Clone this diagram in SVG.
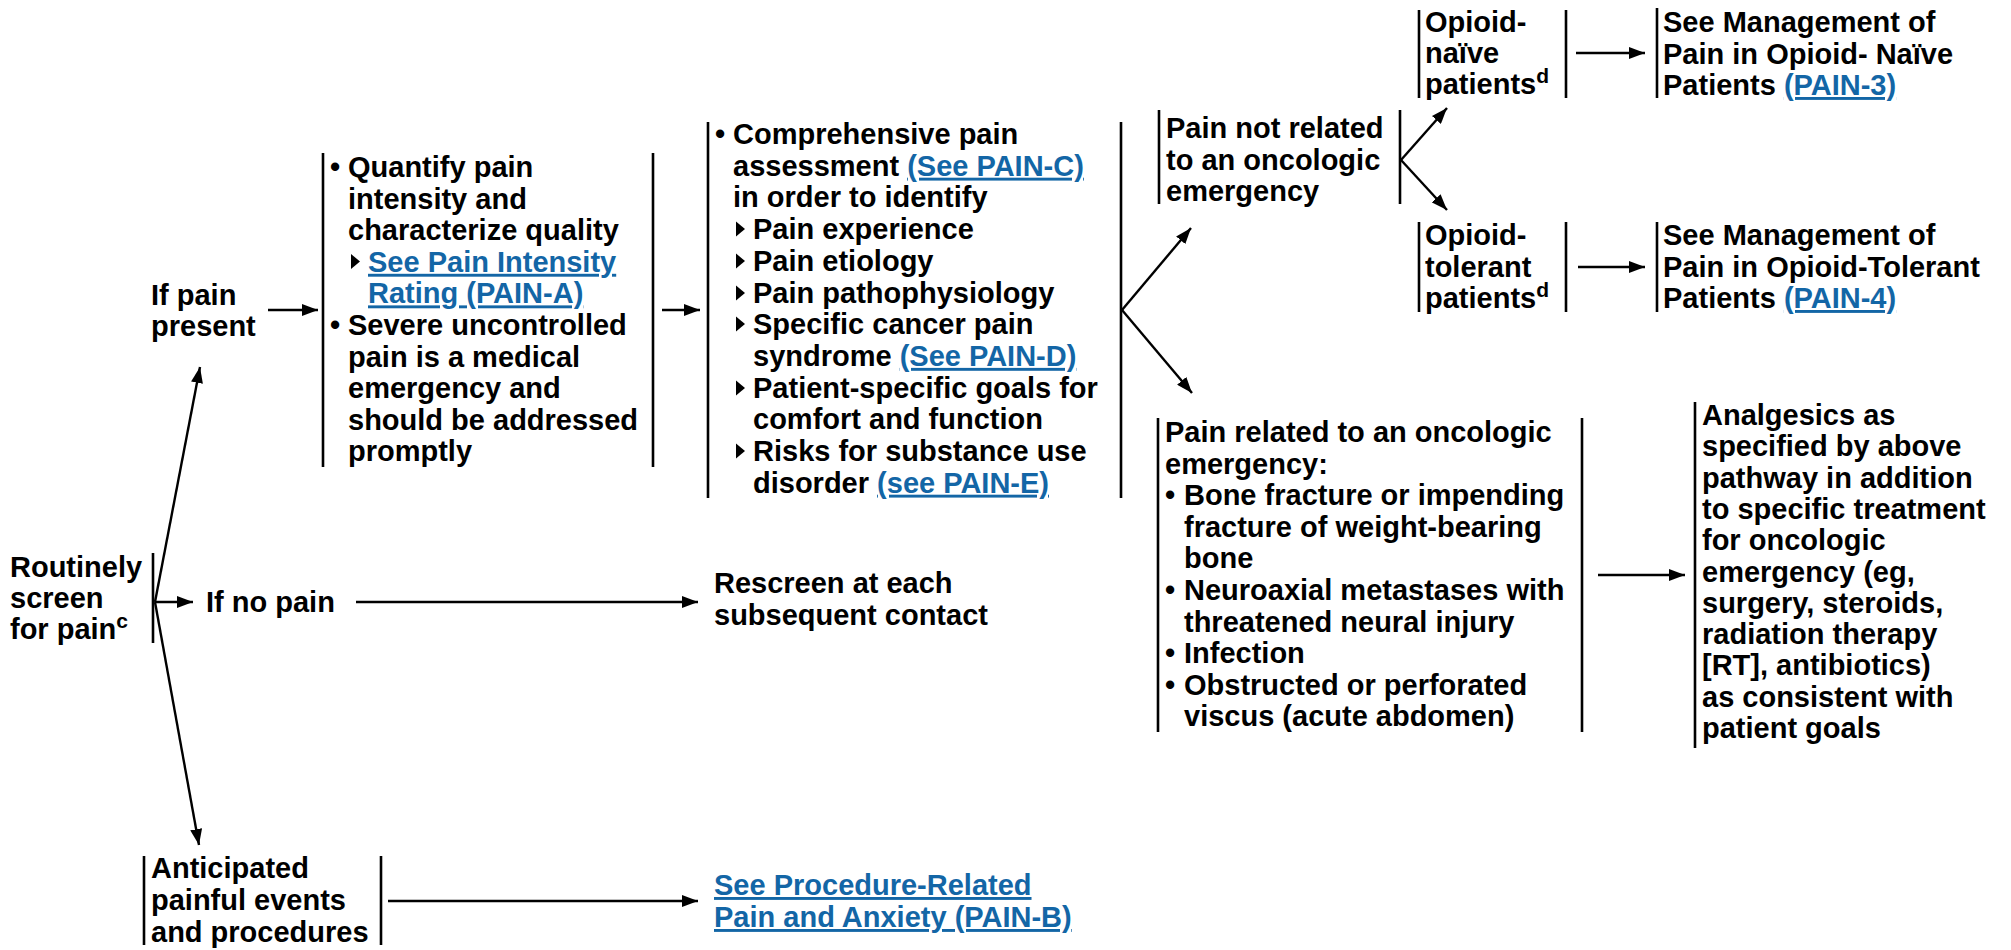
<svg xmlns="http://www.w3.org/2000/svg" width="2011" height="950" viewBox="0 0 2011 950">
<style>
text{font-family:"Liberation Sans",Arial,sans-serif;font-weight:bold;font-size:29px;fill:#000}
.lk{fill:#1366a6;text-decoration:underline}
.sup{font-size:21px}
.bar{stroke:#000;stroke-width:2.6;fill:none}
.con{stroke:#000;stroke-width:2.4;fill:none;marker-end:url(#ah)}
.tri{fill:#000}
</style>
<defs>
<marker id="ah" markerUnits="userSpaceOnUse" markerWidth="16" markerHeight="12" viewBox="0 0 16 12" refX="16" refY="6" orient="auto">
<path d="M0,0 L16,6 L0,12 z" fill="#000"/>
</marker>
</defs>
<rect width="2011" height="950" fill="#fff"/>

<g id="connectors">
<line class="con" x1="155" y1="602" x2="200" y2="367"/>
<line class="con" x1="155" y1="602" x2="193" y2="602"/>
<line class="con" x1="155" y1="602" x2="199" y2="845"/>
<line class="con" x1="356" y1="602" x2="698" y2="602"/>
<line class="con" x1="268" y1="310" x2="318" y2="310"/>
<line class="con" x1="662" y1="310" x2="700" y2="310"/>
<line class="con" x1="1122" y1="310" x2="1191" y2="228"/>
<line class="con" x1="1122" y1="310" x2="1192" y2="393"/>
<line class="con" x1="1401" y1="160" x2="1447" y2="108"/>
<line class="con" x1="1401" y1="160" x2="1447" y2="210"/>
<line class="con" x1="1576" y1="53" x2="1645" y2="53"/>
<line class="con" x1="1578" y1="267" x2="1645" y2="267"/>
<line class="con" x1="1598" y1="575" x2="1685" y2="575"/>
<line class="con" x1="388" y1="901" x2="698" y2="901"/>
</g>

<g id="routinely">
<line class="bar" x1="153" y1="553" x2="153" y2="643"/>
<text x="10" y="577">Routinely</text>
<text x="10" y="608">screen</text>
<text x="10" y="639">for pain<tspan class="sup" dy="-11">c</tspan></text>
</g>

<g id="if-no-pain">
<text x="206" y="612">If no pain</text>
</g>

<g id="rescreen">
<text x="714" y="593">Rescreen at each</text>
<text x="714" y="625">subsequent contact</text>
</g>

<g id="if-pain-present">
<text x="151" y="305">If pain</text>
<text x="151" y="336">present</text>
</g>

<g id="quantify">
<line class="bar" x1="323" y1="153" x2="323" y2="467"/>
<line class="bar" x1="653" y1="153" x2="653" y2="467"/>
<text x="330" y="177">•</text>
<text x="348" y="177">Quantify pain</text>
<text x="348" y="208.6">intensity and</text>
<text x="348" y="240.2">characterize quality</text>
<polygon class="tri" points="351,254 360,261.5 351,269"/>
<text x="368" y="271.8" class="lk">See Pain Intensity</text>
<text x="368" y="303.4" class="lk">Rating (PAIN-A)</text>
<text x="330" y="335">•</text>
<text x="348" y="335">Severe uncontrolled</text>
<text x="348" y="366.6">pain is a medical</text>
<text x="348" y="398.2">emergency and</text>
<text x="348" y="429.8">should be addressed</text>
<text x="348" y="461.4">promptly</text>
</g>

<g id="comprehensive">
<line class="bar" x1="708" y1="122" x2="708" y2="498"/>
<line class="bar" x1="1121" y1="122" x2="1121" y2="498"/>
<text x="715" y="144">•</text>
<text x="733" y="144">Comprehensive pain</text>
<text x="733" y="175.7">assessment <tspan class="lk">(See PAIN-C)</tspan></text>
<text x="733" y="207.4">in order to identify</text>
<polygon class="tri" points="736,221.5 745,229 736,236.5"/>
<text x="753" y="239.1">Pain experience</text>
<polygon class="tri" points="736,253.5 745,261 736,268.5"/>
<text x="753" y="270.8">Pain etiology</text>
<polygon class="tri" points="736,285.5 745,293 736,300.5"/>
<text x="753" y="302.5">Pain pathophysiology</text>
<polygon class="tri" points="736,316.5 745,324 736,331.5"/>
<text x="753" y="334.2">Specific cancer pain</text>
<text x="753" y="365.9">syndrome <tspan class="lk">(See PAIN-D)</tspan></text>
<polygon class="tri" points="736,380.5 745,388 736,395.5"/>
<text x="753" y="397.6">Patient-specific goals for</text>
<text x="753" y="429.3">comfort and function</text>
<polygon class="tri" points="736,443.5 745,451 736,458.5"/>
<text x="753" y="461">Risks for substance use</text>
<text x="753" y="492.7">disorder <tspan class="lk">(see PAIN-E)</tspan></text>
</g>

<g id="not-related">
<line class="bar" x1="1159" y1="110" x2="1159" y2="204"/>
<line class="bar" x1="1400" y1="110" x2="1400" y2="204"/>
<text x="1166" y="138">Pain not related</text>
<text x="1166" y="169.5">to an oncologic</text>
<text x="1166" y="201">emergency</text>
</g>

<g id="opioid-naive">
<line class="bar" x1="1419" y1="10" x2="1419" y2="98"/>
<line class="bar" x1="1566" y1="10" x2="1566" y2="98"/>
<text x="1425" y="32">Opioid-</text>
<text x="1425" y="63">naïve</text>
<text x="1425" y="94">patients<tspan class="sup" dy="-11">d</tspan></text>
</g>

<g id="mgmt-naive">
<line class="bar" x1="1657" y1="8" x2="1657" y2="98"/>
<text x="1663" y="32">See Management of</text>
<text x="1663" y="63.5">Pain in Opioid- Naïve</text>
<text x="1663" y="95">Patients <tspan class="lk">(PAIN-3)</tspan></text>
</g>

<g id="opioid-tolerant">
<line class="bar" x1="1419" y1="222" x2="1419" y2="312"/>
<line class="bar" x1="1566" y1="222" x2="1566" y2="312"/>
<text x="1425" y="245">Opioid-</text>
<text x="1425" y="276.5">tolerant</text>
<text x="1425" y="308">patients<tspan class="sup" dy="-11">d</tspan></text>
</g>

<g id="mgmt-tolerant">
<line class="bar" x1="1657" y1="222" x2="1657" y2="312"/>
<text x="1663" y="245">See Management of</text>
<text x="1663" y="276.5">Pain in Opioid-Tolerant</text>
<text x="1663" y="308">Patients <tspan class="lk">(PAIN-4)</tspan></text>
</g>

<g id="related">
<line class="bar" x1="1158" y1="418" x2="1158" y2="732"/>
<line class="bar" x1="1582" y1="418" x2="1582" y2="732"/>
<text x="1165" y="442">Pain related to an oncologic</text>
<text x="1165" y="473.6">emergency:</text>
<text x="1165" y="505.2">•</text>
<text x="1184" y="505.2">Bone fracture or impending</text>
<text x="1184" y="536.8">fracture of weight-bearing</text>
<text x="1184" y="568.4">bone</text>
<text x="1165" y="600">•</text>
<text x="1184" y="600">Neuroaxial metastases with</text>
<text x="1184" y="631.6">threatened neural injury</text>
<text x="1165" y="663.2">•</text>
<text x="1184" y="663.2">Infection</text>
<text x="1165" y="694.8">•</text>
<text x="1184" y="694.8">Obstructed or perforated</text>
<text x="1184" y="726.4">viscus (acute abdomen)</text>
</g>

<g id="analgesics">
<line class="bar" x1="1695" y1="402" x2="1695" y2="748"/>
<text x="1702" y="425">Analgesics as</text>
<text x="1702" y="456.3">specified by above</text>
<text x="1702" y="487.6">pathway in addition</text>
<text x="1702" y="518.9">to specific treatment</text>
<text x="1702" y="550.2">for oncologic</text>
<text x="1702" y="581.5">emergency (eg,</text>
<text x="1702" y="612.8">surgery, steroids,</text>
<text x="1702" y="644.1">radiation therapy</text>
<text x="1702" y="675.4">[RT], antibiotics)</text>
<text x="1702" y="706.7">as consistent with</text>
<text x="1702" y="738">patient goals</text>
</g>

<g id="anticipated">
<line class="bar" x1="144" y1="856" x2="144" y2="945"/>
<line class="bar" x1="381" y1="856" x2="381" y2="945"/>
<text x="151" y="878">Anticipated</text>
<text x="151" y="910">painful events</text>
<text x="151" y="942">and procedures</text>
</g>

<g id="procedure-related">
<text x="714" y="895" class="lk">See Procedure-Related</text>
<text x="714" y="927" class="lk">Pain and Anxiety (PAIN-B)</text>
</g>
</svg>
